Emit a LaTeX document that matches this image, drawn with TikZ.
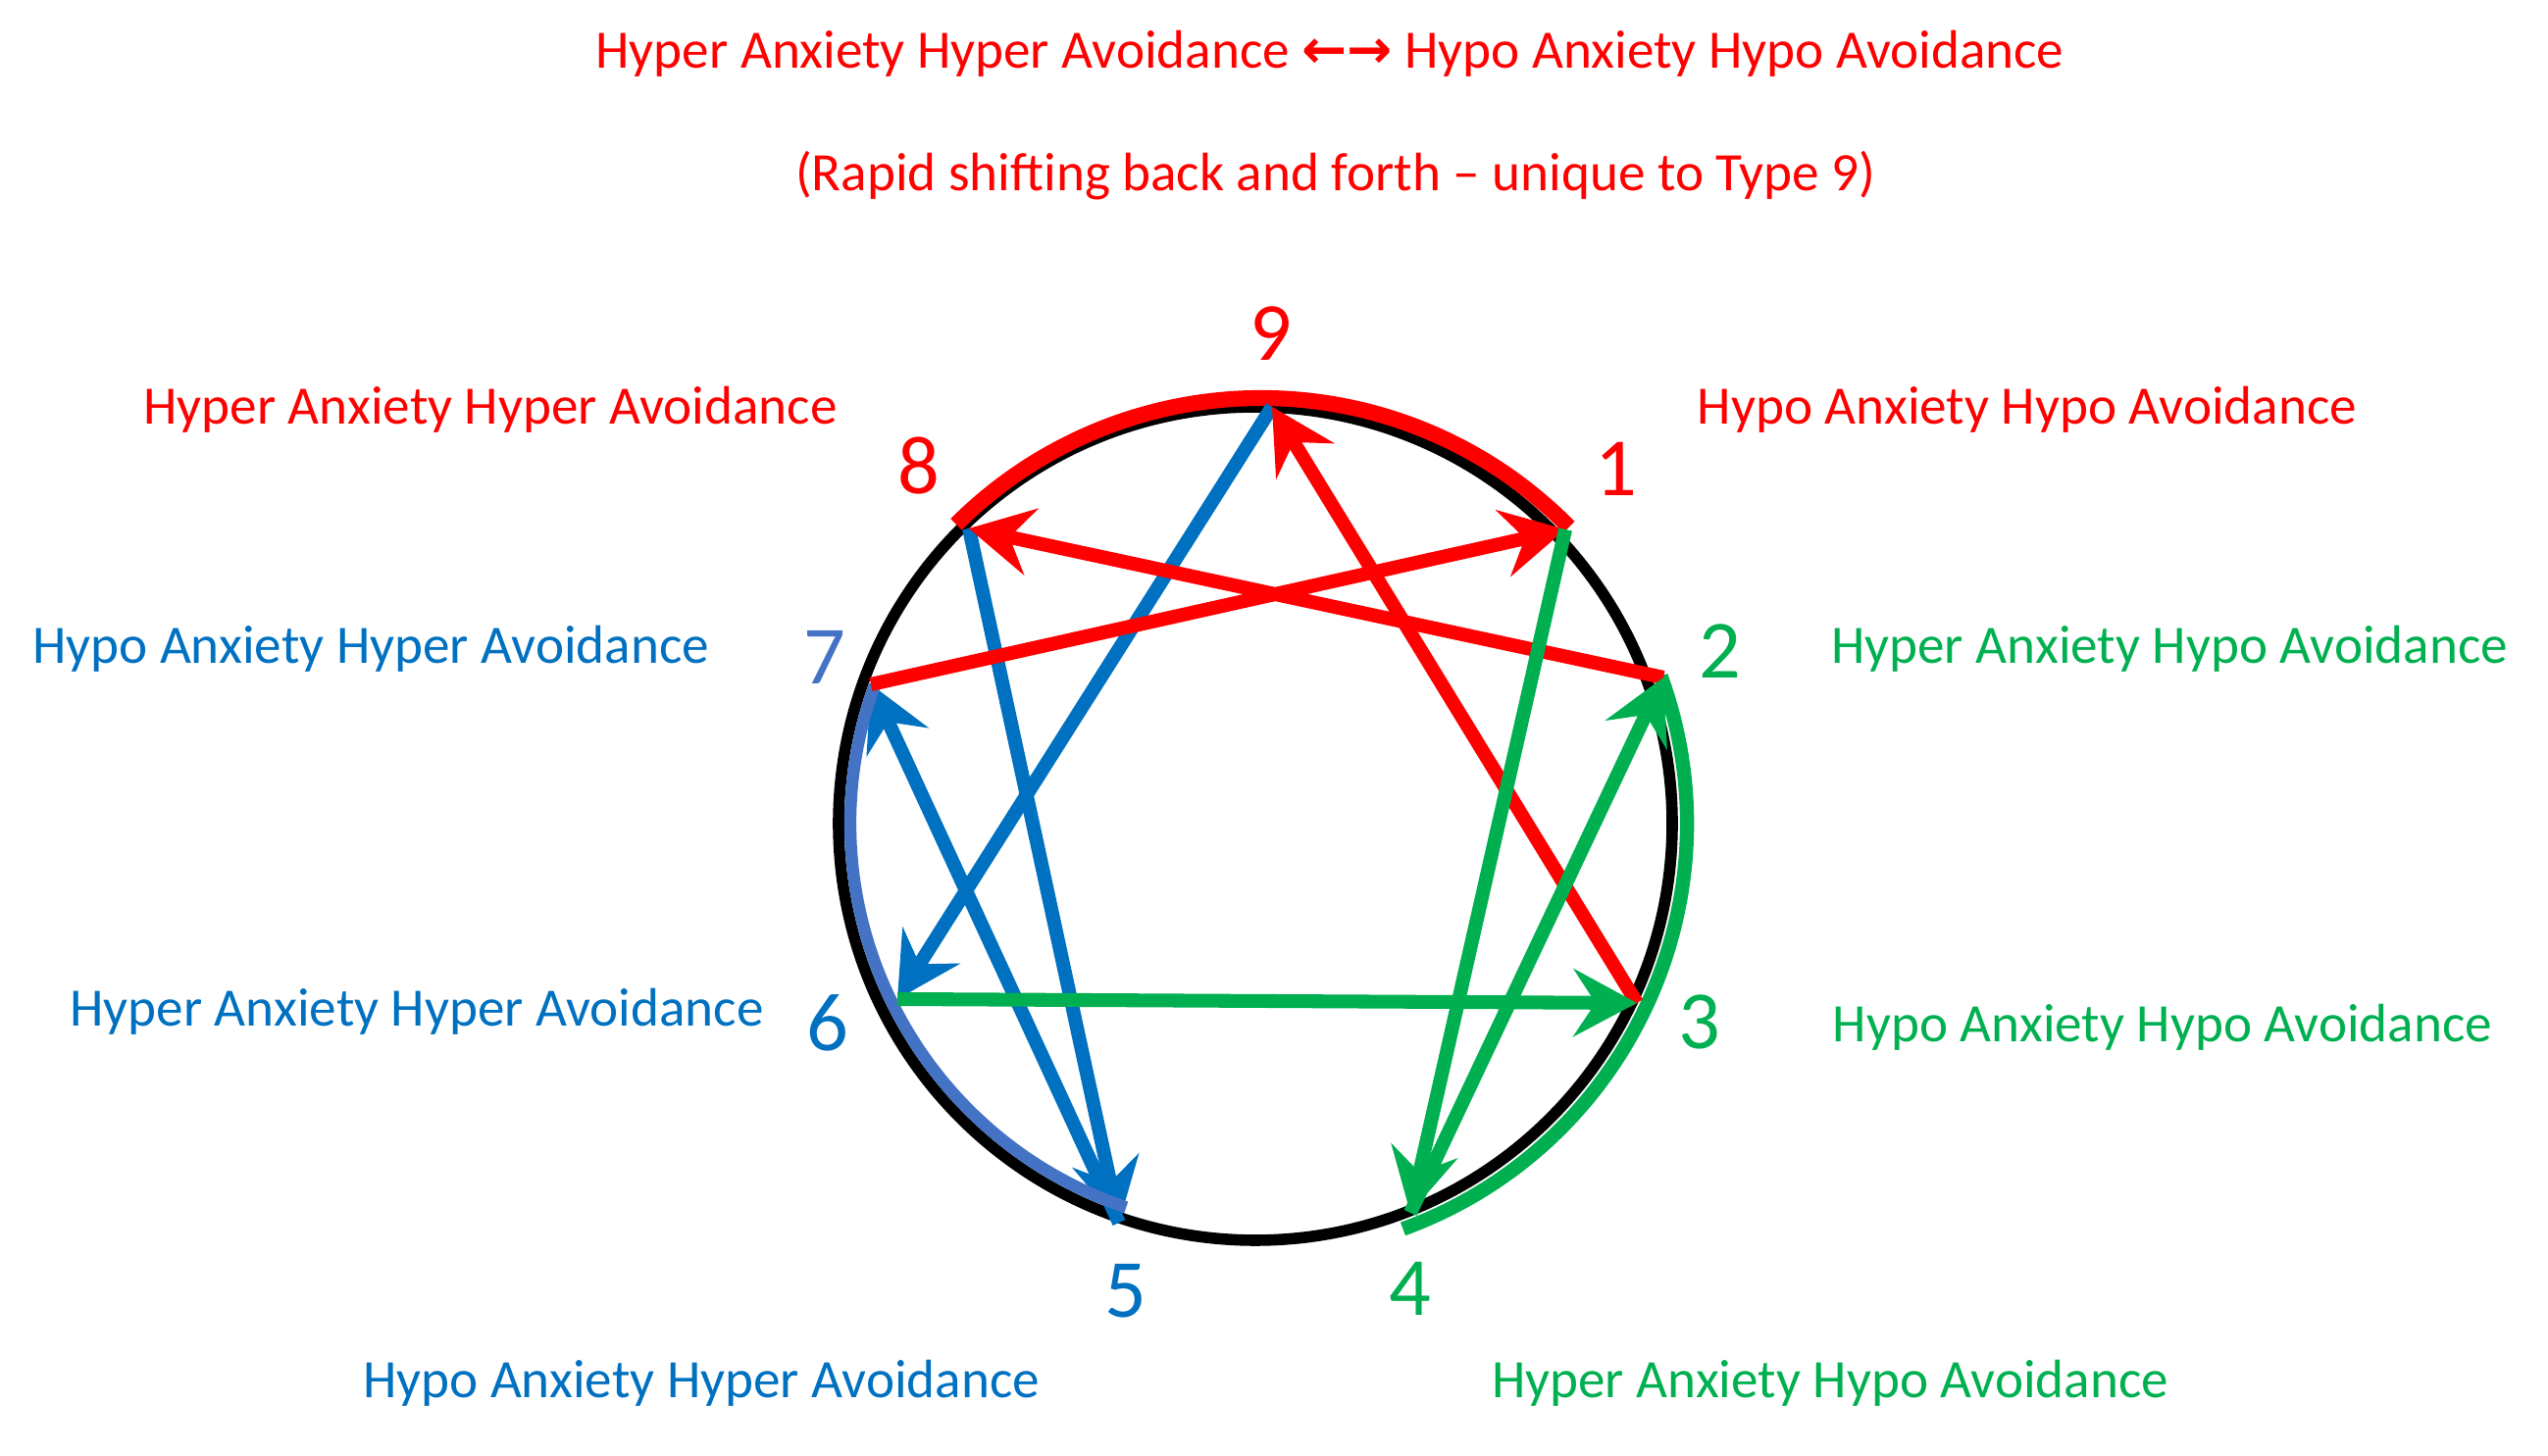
\documentclass[tikz,border=0pt]{standalone}
\usepackage{fontspec}
\setmainfont{Carlito}
\newfontfamily\arrowfont{DejaVu Sans}
\usetikzlibrary{arrows.meta}
\tikzset{>={Stealth[length=18.6pt,width=20pt,inset=6.6pt,line width=0pt]}}
\definecolor{bodyC}{HTML}{FF0000}
\definecolor{heartC}{HTML}{00B050}
\definecolor{headC}{HTML}{0070C0}
\definecolor{headL}{HTML}{4472C4}
\tikzset{
  wire/.style={line width=4pt},
  lbl/.style={font=\fontsize{15.7}{19}\selectfont,anchor=base,inner sep=0pt},
  num/.style={font=\fontsize{24}{28}\selectfont,inner sep=0pt}
}

\begin{document}
\begin{tikzpicture}
\useasboundingbox (0,0) rectangle (25.98,14.85);
\coordinate (c) at (12.80,6.45);
\coordinate (cr) at (12.86,6.39);
\coordinate (n9) at (12.97,10.70);
\coordinate (n1) at (15.96,9.45);
\coordinate (n2) at (16.96,7.94);
\coordinate (n3) at (16.69,4.62);
\coordinate (n4) at (14.38,2.48);
\coordinate (n5) at (11.41,2.38);
\coordinate (n6) at (9.15,4.66);
\coordinate (n7) at (8.88,7.87);
\coordinate (n8) at (9.88,9.46);
% ring and triad arcs
\draw[line width=3.3pt] (c) circle (4.25);
\draw[bodyC,line width=4.6pt] ([shift={(135:4.40)}]cr) arc[start angle=135,end angle=44.5,radius=4.40];
\draw[heartC,line width=4.1pt] ([shift={(20:4.40)}]c) arc[start angle=20,end angle=-70,radius=4.40];
% head lines
\draw[wire,headC,->] (n9) -- (n6);
\draw[wire,headC,->] (n8) -- (n5);
\draw[wire,headC,->] (n5) -- (n7);
\draw[headL,line width=3.5pt] ([shift={(160:4.13)}]c) arc[start angle=160,end angle=251.4,radius=4.13];
% body lines
\draw[wire,bodyC,->] (n3) -- (n9);
\draw[wire,bodyC,->] (n2) -- (n8);
\draw[wire,bodyC,->] (n7) -- (n1);
% heart lines
\draw[wire,heartC,->] (n6) -- (n3);
\draw[wire,heartC,->] (n1) -- (n4);
\draw[wire,heartC,->] (n4) -- (n2);
% point numbers
\node[num,bodyC] (t9) at (12.96,11.45) {9};
\node[num,bodyC] (t8) at (9.37,10.10) {8};
\node[num,bodyC] (t1) at (16.48,10.07) {1};
\node[num,headL] (t7) at (8.41,8.15) {7};
\node[num,headC] (t6) at (8.44,4.42) {6};
\node[num,headC] (t5) at (11.48,1.68) {5};
\node[num,heartC] (t4) at (14.38,1.71) {4};
\node[num,heartC] (t3) at (17.33,4.43) {3};
\node[num,heartC] (t2) at (17.54,8.21) {2};
% texts
\node[lbl,bodyC] (hdr) at (13.56,14.15) {Hyper Anxiety Hyper Avoidance {\arrowfont\bfseries ←→} Hypo Anxiety Hypo Avoidance};
\node[lbl,bodyC] (sub) at (13.62,12.90) {(Rapid shifting back and forth – unique to Type 9)};
\node[lbl,bodyC] (l8) at (5.00,10.52) {Hyper Anxiety Hyper Avoidance};
\node[lbl,bodyC] (l1) at (20.67,10.52) {Hypo Anxiety Hypo Avoidance};
\node[lbl,headC] (l7) at (3.78,8.08) {Hypo Anxiety Hyper Avoidance};
\node[lbl,heartC] (l2) at (22.12,8.08) {Hyper Anxiety Hypo Avoidance};
\node[lbl,headC] (l6) at (4.25,4.38) {Hyper Anxiety Hyper Avoidance};
\node[lbl,heartC] (l3) at (22.05,4.22) {Hypo Anxiety Hypo Avoidance};
\node[lbl,headC] (l5) at (7.15,0.59) {Hypo Anxiety Hyper Avoidance};
\node[lbl,heartC] (l4) at (18.66,0.59) {Hyper Anxiety Hypo Avoidance};
\end{tikzpicture}
\end{document}
